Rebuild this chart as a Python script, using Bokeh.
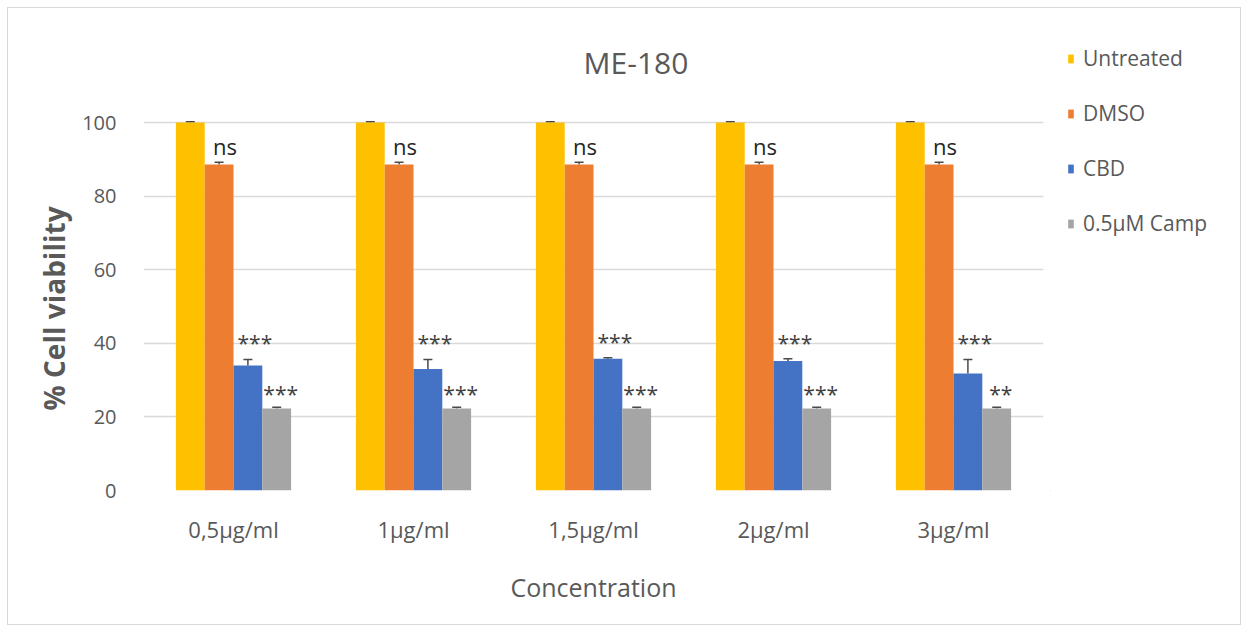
from bokeh.plotting import figure
from bokeh.layouts import row
from bokeh.models import (FactorRange, Range1d, ColumnDataSource, Whisker, Legend,
                          LegendItem, FixedTicker, TeeHead, Label, Title)
from bokeh.transform import dodge
from bokeh.core.properties import value
from bokeh.embed import file_html
from bokeh.resources import INLINE

# ---------------- data ----------------
concentrations = ["0,5\u00b5g/ml", "1\u00b5g/ml", "1,5\u00b5g/ml", "2\u00b5g/ml", "3\u00b5g/ml"]
series_names = ["Untreated", "DMSO", "CBD", "0.5\u00b5M Camp"]

untreated = [100, 100, 100, 100, 100]
untreated_err = [0.2, 0.2, 0.2, 0.2, 0.2]
dmso = [88.6, 88.6, 88.6, 88.6, 88.6]
dmso_err = [0.6, 0.6, 0.6, 0.6, 0.6]
cbd = [34.0, 33.0, 35.8, 35.2, 31.8]
cbd_err = [1.6, 2.6, 0.3, 0.6, 3.8]
camp = [22.3, 22.3, 22.3, 22.3, 22.3]
camp_err = [0.3, 0.3, 0.3, 0.3, 0.3]

dmso_sig = ["ns", "ns", "ns", "ns", "ns"]
cbd_sig = ["***", "***", "***", "***", "***"]
camp_sig = ["***", "***", "***", "***", "**"]

y_ticks = [0, 20, 40, 60, 80, 100]

# ---------------- style ----------------
FONT = "Open Sans"
TEXT = "#595959"
colors = ["#FFC000", "#ED7D31", "#4472C4", "#A5A5A5"]
offsets = [-0.24, -0.08, 0.08, 0.24]
BAR_W = 0.16

values = [untreated, dmso, cbd, camp]
errors = [untreated_err, dmso_err, cbd_err, camp_err]

data = dict(conc=concentrations)
keys = ["s0", "s1", "s2", "s3"]
for k, v, e in zip(keys, values, errors):
    data[k] = v
    data[k + "_up"] = [a + b for a, b in zip(v, e)]
data["dmso_sig"] = dmso_sig
data["cbd_sig"] = cbd_sig
data["camp_sig"] = camp_sig
source = ColumnDataSource(data)

# ---------------- main chart ----------------
# y range extends above 100 to leave room for the title inside the frame
p = figure(width=1042, height=616,
           x_range=FactorRange(*concentrations, range_padding=0),
           y_range=Range1d(0, 121.2),
           output_backend="svg", toolbar_location=None,
           min_border_left=135, min_border_right=7,
           min_border_top=36, min_border_bottom=134,
           background_fill_color="white", border_fill_color="white")
p.outline_line_color = None

renderers = []
for k, off, col in zip(keys, offsets, colors):
    r = p.vbar(x=dodge("conc", off, range=p.x_range), top=k, width=BAR_W,
               source=source, fill_color=col, line_color=None)
    renderers.append(r)
    w = Whisker(base=dodge("conc", off, range=p.x_range), lower=k, upper=k + "_up",
                source=source, line_color="#4a4a4a", line_width=1.5,
                upper_head=TeeHead(size=9, line_color="#4a4a4a", line_width=1.5),
                lower_head=None)
    p.add_layout(w)

# significance labels
p.text(x=dodge("conc", offsets[1], range=p.x_range), y="s1_up", text="dmso_sig",
       source=source, x_offset=6, y_offset=-16, text_align="center",
       text_baseline="alphabetic", text_font=value(FONT), text_font_size="22px",
       text_color="#262626")
p.text(x=dodge("conc", offsets[2], range=p.x_range), y="s2_up", text="cbd_sig",
       source=source, x_offset=7, y_offset=-16, text_align="center",
       text_baseline="alphabetic", text_font=value(FONT), text_font_size="21px",
       text_color="#404040")
p.text(x=dodge("conc", offsets[3], range=p.x_range), y="s3_up", text="camp_sig",
       source=source, x_offset=4, y_offset=-13, text_align="center",
       text_baseline="alphabetic", text_font=value(FONT), text_font_size="21px",
       text_color="#404040")

# chart title (inside the frame, above the 100 line)
p.add_layout(Label(x=2.736, y=116.3, text="ME-180", text_align="center",
                   text_baseline="middle", text_font=FONT, text_font_size="30px",
                   text_color=TEXT))

# axes
for ax in (p.xaxis[0], p.yaxis[0]):
    ax.axis_line_color = None
    ax.major_tick_line_color = None
    ax.minor_tick_line_color = None
    ax.major_label_text_font = FONT
    ax.major_label_text_color = TEXT
    ax.axis_label_text_font = FONT
    ax.axis_label_text_color = TEXT

p.yaxis.ticker = FixedTicker(ticks=y_ticks)
p.yaxis.major_label_text_font_size = "20px"
p.yaxis.major_label_standoff = 21

p.add_layout(Title(text="% Cell viability", align="left", offset=80,
                   vertical_align="middle", standoff=11, text_font=FONT,
                   text_font_size="28px", text_font_style="bold", text_color=TEXT),
             "left")

p.xaxis.major_label_text_font_size = "22px"
p.xaxis.major_label_standoff = 17
p.xaxis.axis_label = "Concentration"
p.xaxis.axis_label_text_font_size = "25px"
p.xaxis.axis_label_text_font_style = "normal"
p.xaxis.axis_label_standoff = 23

p.xgrid.grid_line_color = None
p.ygrid.grid_line_color = "#D9D9D9"
p.ygrid.grid_line_width = 1.5

# ---------------- legend panel ----------------
lg = figure(width=190, height=616, x_range=Range1d(0, 1), y_range=Range1d(0, 1),
            output_backend="svg", toolbar_location=None,
            x_axis_location=None, y_axis_location=None,
            min_border_left=0, min_border_right=0,
            min_border_top=36, min_border_bottom=134,
            background_fill_color="white", border_fill_color="white")
lg.outline_line_color = None
lg.grid.visible = False
# swatch renderers for the legend keys (their single bar lies outside the visible range)
swatches = [lg.vbar(x=[-5], top=[-5], width=0.1, fill_color=c, line_color=None) for c in colors]

legend = Legend(items=[LegendItem(label=n, renderers=[r]) for n, r in zip(series_names, swatches)],
                location=(17, 253), orientation="vertical",
                glyph_width=7, glyph_height=11, label_height=28, spacing=27,
                padding=0, margin=0, border_line_color=None, background_fill_alpha=0,
                label_text_font=FONT, label_text_font_size="21px", label_text_color=TEXT,
                label_standoff=9)
lg.add_layout(legend)

layout = row(p, lg, spacing=0)
layout.styles = {"margin": "8px", "outline": "1px solid #D9D9D9"}

open("out.html", "w").write(file_html(layout, INLINE))
